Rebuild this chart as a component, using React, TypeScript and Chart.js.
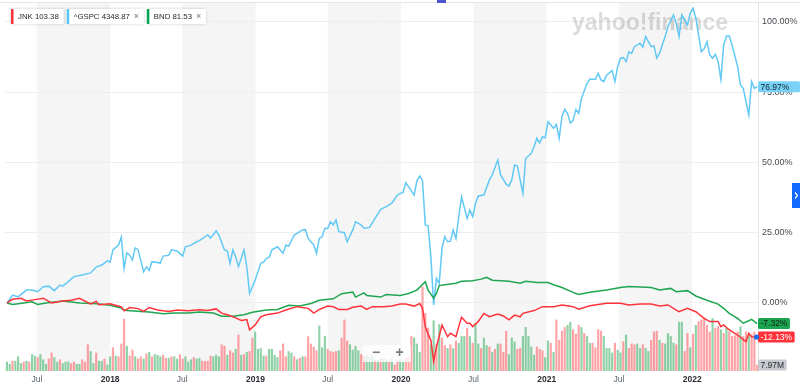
import React, { useEffect, useRef } from 'react';
import { Chart, registerables } from 'chart.js';

Chart.register(...registerables);

const FONT = '"Liberation Sans", Arial, Helvetica, sans-serif';
const START_UTC = Date.UTC(2017, 3, 17); // week 0 of the weekly series
const WEEK_MS = 7 * 24 * 3600 * 1000;

// x-axis tick months [year, monthIndex]
const xTickMonths: [number, number][] = [
  [2017, 6], [2018, 0], [2018, 6], [2019, 0], [2019, 6],
  [2020, 0], [2020, 6], [2021, 0], [2021, 6], [2022, 0],
];
const yTickPct = [0, 25, 50, 75, 100];

const seriesNames = ['JNK', '^GSPC', 'BND'];
const seriesPrices = ['103.38', '4348.87', '81.53'];
const seriesRemovable = [false, true, true];

// [week index, % change]
const gspc: [number, number][] = [
  [0, 0], [2, 2.8], [4, 2.2], [7, 4.6], [9, 4.6], [11, 4.0], [13, 5.8], [15, 6.0], [17, 4.4], [19, 6.4],
  [20, 6.0], [22, 7.6], [24, 9.4], [27, 10.0], [30, 10.7], [32, 12.8], [34, 13.5], [36, 15.0], [37, 14.5], [38, 18.9],
  [40, 20.6], [41, 23.4], [42, 12.3], [43, 17.8], [44, 17.0], [45, 15.3], [46, 19.6], [47, 19.0], [49, 11.1], [50, 12.9],
  [51, 11.6], [52, 14.7], [55, 14.2], [56, 16.7], [58, 17.0], [59, 18.9], [61, 18.5], [63, 16.7], [64, 20.0], [66, 20.6],
  [68, 21.8], [69, 22.2], [72, 24.2], [73, 23.1], [75, 25.7], [76, 24.2], [78, 18.9], [79, 18.5], [80, 14.1], [81, 18.9],
  [82, 16.5], [83, 12.9], [85, 18.9], [86, 12.9], [87, 3.4], [89, 8.2], [91, 14.1], [92, 14.5], [93, 15.9], [94, 16.2],
  [95, 18.9], [97, 20.0], [99, 17.7], [100, 20.6], [101, 20.2], [103, 24.2], [104, 24.8], [106, 26.0], [107, 26.1], [108, 23.0],
  [110, 20.6], [111, 17.7], [112, 23.0], [113, 23.6], [114, 26.6], [115, 26.5], [116, 28.9], [117, 27.8], [118, 29.5], [119, 25.4],
  [121, 25.0], [122, 21.8], [124, 26.0], [125, 28.9], [127, 27.8], [128, 26.6], [130, 26.9], [132, 30.1], [134, 33.3], [136, 34.3],
  [138, 35.5], [140, 38.4], [141, 39.0], [142, 39.3], [143, 42.8], [144, 41.4], [146, 38.4], [147, 43.5], [148, 45.2], [149, 43.5],
  [150, 27.8], [151, 27.5], [152, 16.5], [153, -0.7], [154, 8.8], [155, 7.0], [156, 19.5], [157, 23.6], [158, 21.8], [159, 22.0],
  [160, 26.0], [161, 23.0], [162, 30.7], [163, 37.8], [165, 30.1], [166, 33.1], [167, 30.7], [168, 35.5], [169, 38.1], [171, 38.4],
  [173, 43.8], [174, 45.6], [176, 50.9], [177, 45.6], [179, 42.3], [180, 41.6], [181, 43.8], [182, 49.1], [183, 48.8], [185, 39.0],
  [186, 51.5], [188, 53.3], [189, 55.6], [190, 58.6], [191, 57.0], [192, 59.2], [193, 58.8], [194, 64.5], [196, 62.2], [197, 63.5],
  [198, 58.6], [199, 66.3], [200, 68.9], [201, 67.5], [202, 64.0], [203, 65.0], [204, 68.9], [205, 67.5], [206, 72.8], [208, 78.2],
  [209, 79.6], [211, 79.6], [212, 81.7], [213, 79.4], [214, 78.8], [215, 81.1], [217, 82.7], [218, 78.8], [219, 84.2], [220, 87.1],
  [221, 87.3], [222, 85.9], [223, 89.4], [224, 88.8], [225, 91.2], [227, 92.4], [228, 91.0], [229, 94.8], [231, 91.2], [232, 91.5],
  [233, 87.1], [234, 88.9], [236, 94.8], [237, 98.3], [239, 102.5], [240, 99.5], [241, 94.8], [242, 102.5], [244, 98.9], [245, 103.1],
  [246, 104.9], [247, 101.4], [249, 89.4], [250, 90.5], [251, 93.0], [252, 88.3], [253, 87.1], [254, 88.5], [255, 85.9], [256, 79.6],
  [257, 91.8], [258, 95.0], [259, 95.0], [260, 91.8], [262, 84.1], [263, 77.6], [264, 76.4], [266, 66.9], [267, 78.8], [268, 76.4],
  [269, 76.97],
];

const jnk: [number, number][] = [
  [0, 0], [2, 1.3], [5, 1.7], [7, 0.7], [10, 1.2], [13, 1.7], [16, 0], [20, 0.7], [23, 1.0], [26, 1.7],
  [30, -0.3], [32, 0.6], [33, -0.6], [37, -0.3], [41, -1.4], [42, -2.8], [44, -1.6], [47, -2.0], [49, -3.0], [51, -1.6],
  [54, -2.5], [56, -2.8], [58, -3.0], [61, -2.5], [65, -2.8], [69, -2.4], [72, -2.7], [75, -2.1], [77, -3.6], [79, -4.2],
  [82, -5.3], [84, -6.2], [86, -5.9], [87, -9.6], [89, -7.8], [91, -4.9], [93, -4.2], [97, -3.6], [100, -2.5], [104, -1.3],
  [108, -1.9], [110, -3.6], [112, -2.3], [115, -1.1], [117, -1.3], [119, -2.3], [122, -2.3], [124, -1.5], [127, -1.1], [129, -2.3],
  [131, -1.3], [135, -1.3], [138, -1.1], [141, -0.4], [143, -0.4], [146, -1.1], [148, -0.2], [149, -1.9], [150, -8.4], [151, -11.0],
  [152, -13.2], [153, -20.9], [154, -15.6], [156, -7.9], [158, -12.0], [159, -10.8], [161, -12.0], [162, -8.4], [163, -5.1], [165, -7.2],
  [166, -7.2], [167, -8.4], [169, -6.6], [171, -3.7], [173, -4.9], [176, -3.9], [178, -4.6], [180, -6.0], [182, -4.3], [184, -4.9],
  [185, -3.7], [189, -2.7], [192, -1.3], [196, -1.3], [199, -0.7], [203, -1.3], [205, -2.2], [209, -1.0], [215, -0.1], [220, -0.1],
  [223, -0.7], [227, -0.4], [231, -0.4], [234, -1.1], [237, -0.7], [240, -2.5], [241, -3.1], [244, -1.9], [247, -3.1], [250, -5.5],
  [252, -6.6], [255, -6.6], [256, -8.4], [257, -7.8], [259, -9.6], [262, -11.4], [265, -13.8], [266, -10.8], [267, -12.0], [269, -12.13],
];

const bnd: [number, number][] = [
  [0, 0], [2, -0.5], [6, 0], [9, 0.4], [11, -0.5], [14, 0], [20, 0.7], [26, 0], [32, -0.3], [37, -0.8],
  [41, -1.8], [42, -2.6], [48, -3.0], [51, -3.2], [56, -3.8], [60, -3.6], [65, -3.6], [69, -3.2], [74, -3.6], [77, -4.7],
  [81, -4.7], [85, -4.2], [88, -3.3], [93, -2.5], [97, -2.3], [101, -0.8], [105, -1.1], [109, -0.2], [112, 1.0], [117, 1.5],
  [120, 3.3], [124, 3.9], [125, 2.1], [128, 3.6], [129, 2.7], [134, 2.1], [136, 3.0], [141, 2.7], [144, 3.4], [147, 4.6],
  [150, 7.6], [151, 4.6], [153, 1.7], [154, 3.4], [155, 6.2], [157, 6.5], [159, 6.8], [161, 7.0], [163, 7.7], [167, 7.9],
  [170, 8.5], [172, 9.1], [174, 8.1], [177, 7.9], [180, 7.7], [184, 7.0], [186, 7.7], [190, 7.3], [194, 7.3], [196, 6.5],
  [199, 5.5], [203, 3.8], [205, 3.0], [209, 3.8], [215, 4.6], [220, 5.5], [223, 5.9], [227, 5.7], [231, 5.5], [234, 4.6],
  [238, 5.2], [240, 4.0], [244, 4.4], [247, 2.5], [251, 1.0], [255, -0.4], [257, -1.9], [259, -3.7], [262, -5.5], [264, -7.2],
  [266, -6.3], [267, -5.8], [269, -7.32],
];

// weekly JNK volume, millions (one bar per week from week 0)
const volumeM: number[] = [
  12, 9, 13, 13, 19, 10, 12, 13, 12, 22, 20, 18, 22, 15, 9, 16, 24, 18, 12, 15,
  10, 12, 12, 10, 12, 9, 9, 15, 12, 35, 26, 10, 24, 13, 13, 16, 8, 19, 31, 20,
  19, 36, 69, 33, 20, 28, 19, 16, 19, 16, 23, 25, 19, 22, 21, 19, 21, 17, 17, 19,
  19, 16, 22, 16, 19, 12, 15, 18, 16, 17, 13, 13, 13, 20, 19, 21, 19, 35, 33, 21,
  27, 24, 29, 48, 21, 22, 25, 26, 44, 52, 29, 30, 20, 20, 29, 29, 21, 18, 27, 36,
  19, 26, 24, 19, 15, 17, 19, 19, 46, 36, 32, 27, 60, 31, 46, 29, 26, 25, 26, 27,
  44, 68, 40, 35, 28, 33, 27, 22, 20, 21, 18, 20, 15, 14,
  16, 16, 15, 13, 16, 8, 14, 15, 12, 17,
  19, 46, 44, 36, 25, 112, 77, 57, 35, 67,
  36, 62, 44, 34, 30, 35, 30, 40, 37, 46,
  46, 57, 46, 37, 63, 36, 30, 44, 34, 32,
  25, 29, 36, 36, 25, 53, 22, 44, 39, 29,
  30, 46, 58, 46, 32, 21, 32, 29, 27, 18,
  40, 37, 25, 68, 41, 53, 58, 61, 65, 55,
  49, 61, 58, 50, 46, 37, 37, 31, 55, 53,
  46, 30, 30, 24, 37, 28, 24, 39, 48, 30,
  36, 35, 36, 30, 35, 30, 26, 41, 52, 53,
  41, 37, 36, 50, 46, 37, 35, 65, 65, 26,
  50, 31, 49, 61, 66, 68, 71, 61, 52, 70,
  57, 59, 55, 50, 57, 52, 46, 47, 52, 59,
  46, 52, 48, 48, 52, 7.97,
];
// G = up week, R = down week
const volumeDir =
  'GGRGGGRGRG' + 'GRGGGRRGGR' + 'GGGRRGGRRR' + 'GGRGGRGGRG' + 'RRRGRRGRRG' +
  'RGRGGGRRGR' + 'GGRRGGGRGG' + 'RRRRGGGRRG' + 'RRGRGRGRRG' + 'GGGRGGGGRR' +
  'RGGRGRGRRR' + 'RRGGGRRRRG' + 'RRRGGGGRRG' + 'GGRG' +
  'RGGRGRRGGR' + 'RRGGGRRRGG' + 'RGRRGRGRGG' + 'GRGRGGRGGR' + 'GRGRRRGGGR' +
  'RGGGGGRRRG' + 'GRGRRRRGGR' + 'RRGRGGRRRR' + 'GGGGRGGRGR' + 'RRGGRGGRRR' +
  'GRGGGGRGGR' + 'RGRGRRRRRG' + 'RRGRGRRRRG' + 'RRGRRR';

const C_RED = '#ff333a';
const C_BLUE = '#62c9f5';
const C_GREEN = '#1fa650';
const legendColors = [C_RED, '#5ac8fa', '#00a651'];

const weekOf = (y: number, m: number) => (Date.UTC(y, m, 1) - START_UTC) / WEEK_MS;
const tickLabel = (d: [number, number]) => (d[1] === 0 ? String(d[0]) : 'Jul');

function drawBadge(ctx: CanvasRenderingContext2D, x: number, yc: number, text: string, bg: string, fg: string, minW = 0) {
  ctx.font = `8.5px ${FONT}`;
  const tw = ctx.measureText(text).width;
  const w = Math.max(tw + 5, minW);
  const h = 11;
  ctx.fillStyle = bg;
  ctx.beginPath();
  (ctx as any).roundRect ? (ctx as any).roundRect(x, yc - h / 2, w, h, 1.5) : ctx.rect(x, yc - h / 2, w, h);
  ctx.fill();
  ctx.fillStyle = fg;
  ctx.textBaseline = 'middle';
  ctx.textAlign = 'left';
  ctx.fillText(text, x + 2.5, yc + 0.5);
}

const bandsPlugin = {
  id: 'bands',
  beforeDraw(chart: any) {
    const { ctx, chartArea, scales } = chart;
    ctx.save();
    ctx.fillStyle = '#f5f5f5';
    for (let y = 2017; y <= 2021; y++) {
      const x1 = scales.x.getPixelForValue(weekOf(y, 6));
      const x2 = scales.x.getPixelForValue(weekOf(y + 1, 0));
      ctx.fillRect(x1, chartArea.top, x2 - x1, chartArea.bottom - chartArea.top);
    }
    ctx.restore();
  },
};

const watermarkPlugin = {
  id: 'watermark',
  beforeDatasetsDraw(chart: any) {
    const { ctx } = chart;
    ctx.save();
    ctx.font = `bold 23px ${FONT}`;
    const t = 'yahoo!finance';
    const w = ctx.measureText(t).width;
    ctx.translate(572, 30);
    ctx.scale(156 / w, 1);
    ctx.fillStyle = 'rgba(0,0,0,0.14)';
    ctx.textBaseline = 'alphabetic';
    ctx.fillText(t, 0, 0);
    ctx.restore();
  },
};

const zoomCtlPlugin = {
  id: 'zoomctl',
  afterDatasetsDraw(chart: any) {
    const { ctx } = chart;
    ctx.save();
    ctx.fillStyle = 'rgba(255,255,255,0.78)';
    ctx.fillRect(363, 345, 48, 17);
    ctx.fillStyle = '#7a7a7a';
    ctx.font = `bold 14px ${FONT}`;
    ctx.textAlign = 'center';
    ctx.textBaseline = 'middle';
    ctx.fillText('\u2212', 376, 353.5);
    ctx.fillText('+', 399.5, 353.5);
    ctx.restore();
  },
};

const decorPlugin = {
  id: 'decor',
  afterDraw(chart: any) {
    const { ctx, scales } = chart;
    ctx.save();
    // top border
    ctx.strokeStyle = '#e6e6e6';
    ctx.lineWidth = 1;
    ctx.beginPath();
    ctx.moveTo(0, 2.5);
    ctx.lineTo(800, 2.5);
    ctx.stroke();
    // legend chips
    let x = 11;
    const y = 9, h = 15;
    ctx.font = `7.8px ${FONT}`;
    seriesNames.forEach((name, i) => {
      const label = `${name} ${seriesPrices[i]}`;
      const tw = ctx.measureText(label).width;
      const w = 7 + tw + (seriesRemovable[i] ? 14 : 5);
      ctx.save();
      ctx.shadowColor = 'rgba(0,0,0,0.2)';
      ctx.shadowBlur = 3;
      ctx.fillStyle = '#fff';
      ctx.fillRect(x, y, w, h);
      ctx.restore();
      ctx.fillStyle = legendColors[i];
      ctx.fillRect(x, y, 2.5, h);
      ctx.fillStyle = '#232a31';
      ctx.textBaseline = 'middle';
      ctx.textAlign = 'left';
      ctx.font = `7.8px ${FONT}`;
      ctx.fillText(label, x + 7, y + h / 2 + 0.5);
      if (seriesRemovable[i]) {
        ctx.fillStyle = '#6e7780';
        ctx.font = `9px ${FONT}`;
        ctx.fillText('\u00d7', x + 7 + tw + 4, y + h / 2 + 0.5);
        ctx.font = `7.8px ${FONT}`;
      }
      x += w + 3;
    });
    // right badges
    const bx = chart.chartArea.right;
    const yS = scales.y;
    const lastVol = volumeM[volumeM.length - 1];
    drawBadge(ctx, bx, scales.yv.getPixelForValue(lastVol), `${lastVol.toFixed(2)}M`, '#c6c9ce', '#26282b');
    const jl = jnk[jnk.length - 1][1];
    drawBadge(ctx, bx, yS.getPixelForValue(jl), `${jl.toFixed(2)}%`, '#ff333a', '#ffffff');
    const bl = bnd[bnd.length - 1][1];
    drawBadge(ctx, bx, yS.getPixelForValue(bl), `${bl.toFixed(2)}%`, '#1ca550', '#0b1f12');
    const gl = gspc[gspc.length - 1][1];
    drawBadge(ctx, bx, yS.getPixelForValue(gl), `${gl.toFixed(2)}%`, '#7ad3f7', '#0d2330', 42);
    // blue marker dot
    ctx.fillStyle = '#1a6ff5';
    ctx.beginPath();
    ctx.arc(bx - 1.5, yS.getPixelForValue(jl), 2.6, 0, Math.PI * 2);
    ctx.fill();
    // side tab
    ctx.fillStyle = '#1169ff';
    ctx.fillRect(792, 183, 8, 25);
    ctx.strokeStyle = '#ffffff';
    ctx.lineWidth = 1.2;
    ctx.beginPath();
    ctx.moveTo(795, 192.5);
    ctx.lineTo(797.5, 195.5);
    ctx.lineTo(795, 198.5);
    ctx.stroke();
    // top marker
    ctx.fillStyle = '#4c55d0';
    ctx.fillRect(437, 0, 9, 3);
    ctx.restore();
  },
};

export default function App() {
  const ref = useRef<HTMLCanvasElement>(null);
  useEffect(() => {
    const canvas = ref.current;
    if (!canvas) return;
    const chart = new Chart(canvas, {
      type: 'bar',
      data: {
        datasets: [
          {
            type: 'line', label: 'JNK', data: jnk.map(([x, y]) => ({ x, y })),
            borderColor: C_RED, borderWidth: 1.5, pointRadius: 0, tension: 0, yAxisID: 'y', order: 1,
          },
          {
            type: 'line', label: 'BND', data: bnd.map(([x, y]) => ({ x, y })),
            borderColor: C_GREEN, borderWidth: 1.5, pointRadius: 0, tension: 0, yAxisID: 'y', order: 2,
          },
          {
            type: 'line', label: '^GSPC', data: gspc.map(([x, y]) => ({ x, y })),
            borderColor: C_BLUE, borderWidth: 1.5, pointRadius: 0, tension: 0, yAxisID: 'y', order: 3,
          },
          {
            type: 'bar', label: 'Volume', data: volumeM.map((v, i) => ({ x: i, y: v })),
            backgroundColor: volumeDir.split('').map((c) => (c === 'G' ? 'rgba(31,166,80,0.5)' : 'rgba(255,51,58,0.45)')),
            barThickness: 1.5, yAxisID: 'yv', order: 10,
          } as any,
        ],
      },
      options: {
        responsive: false,
        animation: false,
        devicePixelRatio: 1,
        layout: { padding: { left: 5, top: 3, right: 0, bottom: 0 } },
        plugins: { legend: { display: false }, tooltip: { enabled: false } },
        scales: {
          x: {
            type: 'linear', min: -0.7, max: 269.3, offset: false,
            grid: { display: false, drawTicks: false },
            border: { display: false },
            afterBuildTicks: (s: any) => { s.ticks = xTickMonths.map((d) => ({ value: weekOf(d[0], d[1]) })); },
            afterFit: (s: any) => { s.height = 20; s.paddingLeft = 0; s.paddingRight = 0; },
            ticks: {
              autoSkip: false, maxRotation: 0, minRotation: 0, padding: 4,
              color: (c: any) => (xTickMonths[c.index] && xTickMonths[c.index][1] === 0 ? '#2b2f33' : '#5b636a'),
              font: (c: any) => ({ family: FONT, size: 8.5, weight: xTickMonths[c.index] && xTickMonths[c.index][1] === 0 ? 'bold' : 'normal' }),
              callback: (_v: any, i: number) => tickLabel(xTickMonths[i]),
            },
          },
          y: {
            type: 'linear', position: 'right', min: -24.2, max: 106.76,
            afterBuildTicks: (s: any) => { s.ticks = yTickPct.map((v) => ({ value: v })); },
            afterFit: (s: any) => { s.width = 42; s.paddingTop = 0; s.paddingBottom = 0; },
            grid: { color: '#eeeeee', drawTicks: false },
            border: { display: true, color: '#e2e2e2' },
            ticks: {
              padding: 4, color: '#464b50', font: { family: FONT, size: 9 },
              callback: (v: any) => `${Number(v).toFixed(2)}%`,
            },
          },
          yv: { type: 'linear', display: false, min: 0, max: 490 },
        },
      } as any,
      plugins: [bandsPlugin, watermarkPlugin, zoomCtlPlugin, decorPlugin],
    });
    return () => chart.destroy();
  }, []);
  return (
    <div style={{ position: 'fixed', left: 0, top: 0, width: 800, height: 391, background: '#fff' }}>
      <canvas ref={ref} width={800} height={391} style={{ display: 'block', width: 800, height: 391 }} />
    </div>
  );
}
